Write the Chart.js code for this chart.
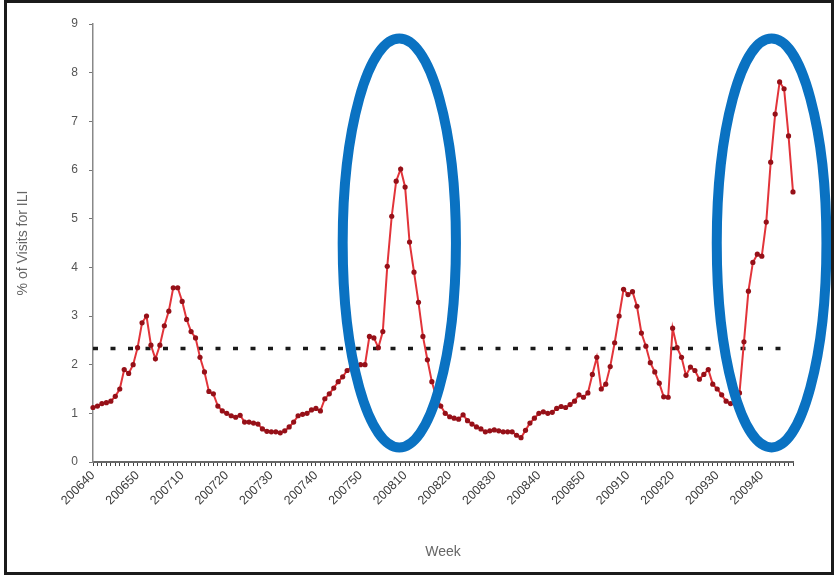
<!DOCTYPE html>
<html>
<head>
<meta charset="utf-8">
<script src="https://cdn.jsdelivr.net/npm/chart.js@4/dist/chart.umd.min.js"></script>
<style>
  html, body { margin: 0; padding: 0; background: #fff; }
  #wrap { position: absolute; left: 0; top: 0; width: 836px; height: 575px; }
  #frame { position: absolute; left: 4px; top: 0; width: 830px; height: 575px;
           box-sizing: border-box; border: 3px solid #1b1b1b; pointer-events: none; }
</style>
</head>
<body>
<div id="wrap"><canvas id="chart" width="836" height="575"></canvas></div>
<div id="frame"></div>
<script>
// ILI % of visits, weekly, starting at week 200640
const iliPercent = [
  1.12, 1.15, 1.2, 1.22, 1.25, 1.35, 1.5, 1.9, 1.82, 2.0,
  2.35, 2.86, 3.0, 2.4, 2.12, 2.4, 2.8, 3.1, 3.58, 3.58,
  3.3, 2.93, 2.68, 2.55, 2.15, 1.85, 1.45, 1.4, 1.15, 1.05,
  1.0, 0.95, 0.92, 0.96, 0.82, 0.82, 0.8, 0.78, 0.68, 0.63,
  0.62, 0.62, 0.6, 0.64, 0.72, 0.82, 0.95, 0.98, 1.0, 1.07,
  1.1, 1.05, 1.3, 1.4, 1.52, 1.65, 1.75, 1.88, 1.95, 1.97,
  2.0, 2.0, 2.58, 2.55, 2.35, 2.68, 4.02, 5.05, 5.77, 6.02,
  5.65, 4.52, 3.9, 3.28, 2.58, 2.1, 1.65, 1.34, 1.15, 1.0,
  0.93, 0.9, 0.88, 0.97, 0.85, 0.78, 0.72, 0.68, 0.62, 0.64,
  0.66, 0.64, 0.62, 0.62, 0.62, 0.55, 0.5, 0.65, 0.8, 0.9,
  1.0, 1.03, 1.0, 1.02, 1.1, 1.14, 1.12, 1.18, 1.25, 1.38,
  1.33, 1.42, 1.8, 2.15, 1.5, 1.6, 1.96, 2.45, 3.0, 3.55,
  3.44, 3.5, 3.2, 2.65, 2.38, 2.04, 1.85, 1.62, 1.34, 1.33,
  2.75, 2.35, 2.15, 1.78, 1.95, 1.88, 1.7, 1.8, 1.9, 1.6,
  1.5, 1.38, 1.25, 1.2, 1.25, 1.42, 2.47, 3.51, 4.1, 4.27,
  4.23, 4.93, 6.16, 7.15, 7.81, 7.67, 6.7, 5.55
];

// labels shown every 10th week
const tickLabels = [
  '200640', '200650', '200710', '200720', '200730', '200740', '200750', '200810',
  '200820', '200830', '200840', '200850', '200910', '200920', '200930', '200940'
];

const baseline = 2.33; // epidemic threshold

// highlighted outbreaks: centre (week index, %), half width in weeks, half height in %
const ellipseCenters = [[68.7, 4.5], [152.2, 4.5]];
const ellipseRadii = [[12.7, 4.2], [12.3, 4.2]];

const weeks = iliPercent.map((v, i) => i);

const ellipsePlugin = {
  id: 'ellipses',
  afterDatasetsDraw(chart) {
    const { ctx, scales: { x, y } } = chart;
    ctx.save();
    ctx.strokeStyle = '#0a72c2';
    ctx.lineWidth = 10;
    ellipseCenters.forEach((c, k) => {
      const cx = x.getPixelForValue(c[0]);
      const cy = y.getPixelForValue(c[1]);
      const rx = x.getPixelForValue(c[0] + ellipseRadii[k][0]) - cx;
      const ry = cy - y.getPixelForValue(c[1] + ellipseRadii[k][1]);
      ctx.beginPath();
      ctx.ellipse(cx, cy, rx, ry, 0, 0, Math.PI * 2);
      ctx.stroke();
    });
    ctx.restore();
  }
};

const ctx = document.getElementById('chart').getContext('2d');
const iliChart = new Chart(ctx, {
  type: 'line',
  data: {
    labels: weeks,
    datasets: [{
      label: '% of Visits for ILI',
      data: iliPercent,
      borderColor: '#e2343a',
      borderWidth: 2,
      pointRadius: 2.6,
      pointBorderWidth: 0,
      pointBackgroundColor: '#961018',
      tension: 0
    }, {
      label: 'Baseline',
      data: weeks.map(() => baseline),
      borderColor: '#1a1a1a',
      borderWidth: 3.5,
      borderDash: [5, 12.5],
      pointRadius: 0
    }]
  },
  options: {
    responsive: false,
    animation: false,
    layout: { padding: { left: 0, right: 43, top: 24, bottom: 0 } },
    plugins: { legend: { display: false }, tooltip: { enabled: false } },
    scales: {
      x: {
        type: 'category',
        offset: false,
        afterFit(scale) { scale.height = 113; },
        grid: { drawOnChartArea: false, drawTicks: true, tickLength: 4, color: '#444', lineWidth: 1 },
        border: { color: '#666', width: 2 },
        ticks: {
          autoSkip: false,
          minRotation: 45,
          maxRotation: 45,
          padding: 2,
          color: '#3c3c3c',
          font: { family: 'Liberation Sans, Arial, sans-serif', size: 12.5 },
          callback: (val, i) => (i % 10 === 0 ? tickLabels[i / 10] : '')
        },
        title: {
          display: true,
          text: 'Week',
          color: '#666',
          font: { family: 'Liberation Sans, Arial, sans-serif', size: 14 },
          padding: { top: 4, bottom: 14 }
        }
      },
      y: {
        min: 0,
        max: 9,
        afterFit(scale) { scale.width = 93; },
        grid: { drawOnChartArea: false, drawTicks: true, tickLength: 4, color: '#777' },
        border: { color: '#888', width: 1.5 },
        ticks: {
          stepSize: 1,
          padding: 11,
          color: '#555',
          font: { family: 'Liberation Sans, Arial, sans-serif', size: 12 }
        },
        title: {
          display: true,
          text: '% of Visits for ILI',
          color: '#666',
          font: { family: 'Liberation Sans, Arial, sans-serif', size: 14 },
          padding: { top: 15, bottom: 4 }
        }
      }
    }
  },
  plugins: [ellipsePlugin]
});
</script>
</body>
</html>
